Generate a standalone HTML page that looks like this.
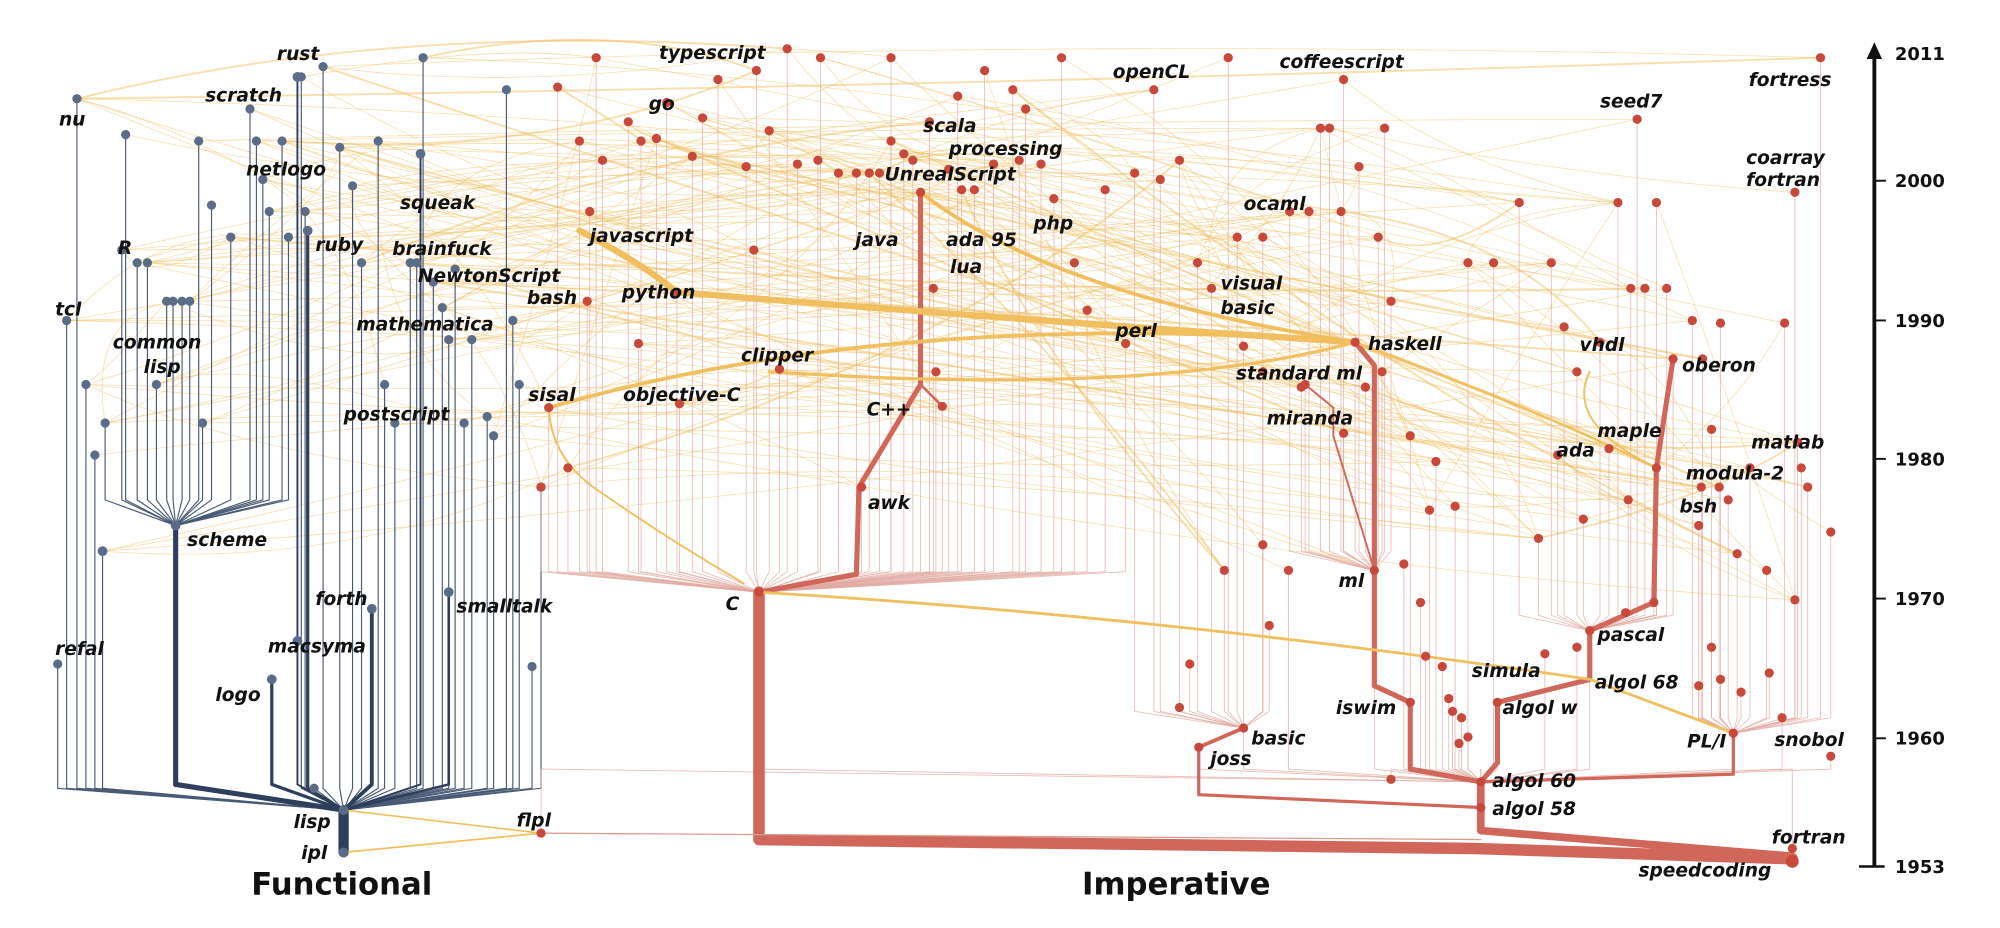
<!DOCTYPE html>
<html><head><meta charset="utf-8"><style>
html,body{margin:0;padding:0;background:#fff;width:2000px;height:928px;overflow:hidden}
svg{display:block}
.l{font-family:"DejaVu Sans","Liberation Sans",sans-serif;font-weight:bold;font-style:oblique;font-size:14.5px;fill:#111}
.ax{font-family:"DejaVu Sans","Liberation Sans",sans-serif;font-weight:bold;font-size:14px;fill:#111}
.big{font-family:"DejaVu Sans","Liberation Sans",sans-serif;font-weight:bold;font-size:24px;fill:#111}
</style></head><body>
<svg id="s" width="2000" height="928" viewBox="0 0 1560 724" preserveAspectRatio="none" xmlns="http://www.w3.org/2000/svg">
<g id="yel" fill="none" stroke="#f0c060"></g>
<g id="thin" fill="none"></g>
<g fill="none" stroke-linecap="round" stroke-linejoin="round">
<path d="M268,665 L268,632" stroke="#2e3e5c" stroke-width="8"/>
<path d="M268,632 L137,612 L137,410" stroke="#2e3e5c" stroke-width="4"/>
<path d="M268,632 L240,615 L240,180" stroke="#2e3e5c" stroke-width="2.5"/>
<path d="M268,632 L212,612 L212,530" stroke="#2e3e5c" stroke-width="2.5"/>
<path d="M268,632 L290,612 L290,475" stroke="#2e3e5c" stroke-width="3"/>
<path d="M268,632 L350,612 L350,462" stroke="#2e3e5c" stroke-width="2"/>
<path d="M268,632 L328,612 L328,120" stroke="#2e3e5c" stroke-width="1.5"/>
<path d="M268,632 L232,612 L232,60" stroke="#2e3e5c" stroke-width="1.5"/>
<path d="M592,462 L592,655 L1150,662 L1398,670" stroke="#d0675a" stroke-width="9"/>
<path d="M1155,610 L1155,648 L1398,668" stroke="#d0675a" stroke-width="6"/>
<path d="M592,462 L668,448 L670,380 L718,300 L718,150" stroke="#d0675a" stroke-width="4"/>
<path d="M718,300 L735,317" stroke="#d0675a" stroke-width="2"/>
<path d="M1155,610 L1100,600 L1100,548 L1072,535 L1072,445 L1072,285 L1057,267" stroke="#d0675a" stroke-width="4"/>
<path d="M1155,610 L1168,595 L1168,548 L1240,530 L1240,492 L1290,470 L1292,365 L1305,280" stroke="#d0675a" stroke-width="4"/>
<path d="M1155,610 L1352,604 L1352,572" stroke="#d0675a" stroke-width="2.5"/>
<path d="M935,583 L935,620 L1155,630" stroke="#d0675a" stroke-width="2.5"/>
<path d="M935,583 L970,568" stroke="#d0675a" stroke-width="3"/>
<path d="M1018,300 L1040,318 L1040,340 L1072,445" stroke="#d0675a" stroke-width="1.5"/>
<path d="M452,180 Q500,205 528,228 Q800,250 1057,267" stroke="#f0c060" stroke-width="5"/>
<path d="M718,150 Q820,230 1057,267" stroke="#f0c060" stroke-width="3"/>
<path d="M428,318 Q700,240 1057,267" stroke="#f0c060" stroke-width="3"/>
<path d="M592,462 Q900,480 1240,530 L1352,572" stroke="#f0c060" stroke-width="2.2"/>
<path d="M1057,267 Q1200,320 1292,365" stroke="#f0c060" stroke-width="2"/>
<path d="M600,290 Q900,310 1057,267" stroke="#f0c060" stroke-width="2.5"/>
<path d="M268,632 L422,650 L268,665" stroke="#f0c060" stroke-width="1.3"/>
<path d="M428,318 Q430,360 470,385 Q520,420 580,455" stroke="#f0c060" stroke-width="1.5"/>
<path d="M1240,290 Q1220,330 1292,365" stroke="#f0c060" stroke-width="1.5"/>
<path d="M422,650 L1155,655" stroke="#d99a90" stroke-width="1"/>
</g>
<g id="nodes"></g>
<g stroke="#111" stroke-width="3">
<line x1="1462" y1="676" x2="1462" y2="44"/>
<line x1="1450" y1="676" x2="1470" y2="676" stroke-width="2"/>
</g>
<polygon points="1456,46 1468,46 1462,33" fill="#111"/>
<g stroke="#111" stroke-width="1.5">
<line x1="1462" y1="141" x2="1471" y2="141"/><line x1="1462" y1="250" x2="1471" y2="250"/>
<line x1="1462" y1="358" x2="1471" y2="358"/><line x1="1462" y1="467" x2="1471" y2="467"/>
<line x1="1462" y1="576" x2="1471" y2="576"/>
</g>
<text class="ax" x="1478" y="47">2011</text><text class="ax" x="1478" y="146">2000</text>
<text class="ax" x="1478" y="255">1990</text><text class="ax" x="1478" y="363">1980</text>
<text class="ax" x="1478" y="472">1970</text><text class="ax" x="1478" y="581">1960</text>
<text class="ax" x="1478" y="681">1953</text>
<g class="l">
<text x="216" y="47">rust</text><text x="514" y="46">typescript</text><text x="868" y="61">openCL</text>
<text x="998" y="53">coffeescript</text><text x="1364" y="67">fortress</text><text x="46" y="98">nu</text>
<text x="160" y="79">scratch</text><text x="506" y="86">go</text><text x="720" y="103">scala</text>
<text x="1248" y="84">seed7</text><text x="740" y="121">processing</text><text x="192" y="137">netlogo</text>
<text x="690" y="141">UnrealScript</text><text x="1362" y="128">coarray</text><text x="1362" y="145">fortran</text>
<text x="312" y="163">squeak</text><text x="246" y="196">ruby</text><text x="306" y="199">brainfuck</text>
<text x="460" y="189">javascript</text><text x="667" y="192">java</text><text x="738" y="192">ada 95</text>
<text x="806" y="179">php</text><text x="970" y="164">ocaml</text><text x="741" y="213">lua</text>
<text x="92" y="198">R</text><text x="326" y="220">NewtonScript</text><text x="485" y="233">python</text>
<text x="411" y="237">bash</text><text x="952" y="226">visual</text><text x="952" y="245">basic</text>
<text x="43" y="246">tcl</text><text x="88" y="272">common</text><text x="112" y="291">lisp</text>
<text x="278" y="258">mathematica</text><text x="870" y="263">perl</text><text x="1067" y="273">haskell</text>
<text x="1232" y="274">vhdl</text><text x="578" y="282">clipper</text><text x="964" y="296">standard ml</text>
<text x="1312" y="290">oberon</text><text x="412" y="313">sisal</text><text x="486" y="313">objective-C</text>
<text x="676" y="324">C++</text><text x="988" y="331">miranda</text><text x="268" y="328">postscript</text>
<text x="1246" y="341">maple</text><text x="1214" y="356">ada</text><text x="1366" y="350">matlab</text>
<text x="1315" y="374">modula-2</text><text x="1310" y="400">bsh</text><text x="677" y="397">awk</text>
<text x="146" y="426">scheme</text><text x="246" y="472">forth</text><text x="356" y="478">smalltalk</text>
<text x="566" y="476">C</text><text x="1044" y="458">ml</text><text x="1246" y="500">pascal</text>
<text x="43" y="511">refal</text><text x="209" y="509">macsyma</text><text x="1148" y="528">simula</text>
<text x="1244" y="537">algol 68</text><text x="168" y="547">logo</text><text x="1042" y="557">iswim</text>
<text x="1172" y="557">algol w</text><text x="976" y="581">basic</text><text x="944" y="597">joss</text>
<text x="1316" y="583">PL/I</text><text x="1384" y="582">snobol</text><text x="1164" y="614">algol 60</text>
<text x="1164" y="636">algol 58</text><text x="229" y="646">lisp</text><text x="235" y="670">ipl</text>
<text x="403" y="645">flpl</text><text x="1382" y="658">fortran</text><text x="1278" y="684">speedcoding</text>
</g>
<text class="big" x="196" y="698">Functional</text>
<text class="big" x="844" y="698">Imperative</text>
<script>
(function(){
var NS="http://www.w3.org/2000/svg";
function el(t,a,p){var e=document.createElementNS(NS,t);for(var k in a)e.setAttribute(k,a[k]);p.appendChild(e);return e;}
var seed=7;function r(){seed=(seed*16807)%2147483647;return seed/2147483647;}
var F=[[45,518],[52,250],[60,77],[67,300],[74,355],[80,430],[82,330],[95,195],[98,105],[107,205],[115,205],[122,300],[130,235],[135,235],[142,235],[148,235],[155,110],[158,330],[165,160],[180,185],[195,85],[200,110],[205,140],[210,165],[220,110],[225,185],[235,60],[238,165],[245,615],[252,52],[265,115],[275,145],[282,205],[295,110],[300,300],[308,330],[320,205],[325,205],[330,45],[338,220],[345,240],[350,265],[355,210],[362,330],[368,265],[380,325],[385,340],[395,70],[400,250],[405,300],[415,520],[422,380]];
var FH=[[137,410],[240,180],[212,530],[290,475],[350,462],[328,120],[232,60],[268,632],[268,665],[232,500],[80,430]];
var R=[[465,45],[614,38],[828,45],[958,45],[1048,62],[1420,45],[900,70],[1277,93],[1400,150],[435,68],[490,95],[520,80],[548,92],[560,62],[590,55],[640,45],[695,45],[747,75],[725,95],[768,55],[800,85],[790,70],[452,110],[470,125],[500,110],[512,108],[540,122],[582,130],[600,102],[622,128],[638,125],[654,135],[668,135],[678,135],[686,135],[695,110],[705,120],[712,125],[740,132],[750,148],[760,148],[775,128],[795,125],[812,128],[822,155],[838,205],[848,242],[862,148],[878,268],[885,135],[905,140],[920,125],[934,205],[945,225],[965,185],[970,270],[985,185],[1006,165],[1021,165],[1030,100],[1037,100],[1046,165],[1060,130],[1075,185],[1080,100],[1048,338],[1065,302],[1078,290],[1100,340],[1115,398],[1120,360],[1135,395],[1145,205],[1165,205],[1185,158],[1200,420],[1210,205],[1215,355],[1220,255],[1230,290],[1235,405],[1248,267],[1255,350],[1262,158],[1270,390],[1272,225],[1283,225],[1292,158],[1300,225],[1320,250],[1325,410],[1328,280],[1335,335],[1342,252],[1348,390],[1355,432],[1365,365],[1378,445],[1392,252],[1402,345],[1405,365],[1410,380],[1428,415],[1428,590],[1327,380],[1341,380],[460,165],[458,235],[422,380],[443,365],[498,268],[530,315],[588,195],[608,288],[728,225],[730,290],[985,290],[990,488],[985,425],[955,445],[928,518],[920,552],[1005,445],[1015,302],[1085,235],[1095,440],[1108,470],[1112,512],[1125,520],[1133,555],[1140,560],[1145,575],[1130,545],[1085,608],[1138,580],[1205,510],[1230,505],[1268,478],[1290,470],[1335,505],[1342,530],[1358,540],[1380,525],[1390,560],[1400,468],[1325,535],[428,318],[528,228],[718,150],[735,317],[672,380],[1057,267],[1018,300],[1072,445],[1100,548],[1168,548],[1240,492],[1292,365],[1305,280],[1352,572],[1155,610],[1155,630],[935,583],[970,568],[1398,662],[592,462],[422,650]];
var thin=document.getElementById('thin'),yel=document.getElementById('yel'),nodes=document.getElementById('nodes');
F.forEach(function(p){
 var sch=(p[0]<230&&p[1]<400&&p[0]>75);
 var d=sch?"M"+p[0]+","+p[1]+" L"+p[0]+",390 L137,410":"M"+p[0]+","+p[1]+" L"+p[0]+",615 L268,632";
 el('path',{d:d,stroke:'#4a5a75','stroke-width':0.9},thin);
});
R.forEach(function(p){
 var x=p[0],y=p[1],d;
 if(x<880&&y<448){d="M"+x+","+y+" L"+x+",446 L592,462";}
 else if(x>=880&&x<1000&&y<560){d="M"+x+","+y+" L"+x+",555 L970,568";}
 else if(x>=1000&&x<1090&&y<440){d="M"+x+","+y+" L"+x+",430 L1072,445";}
 else if(x>=1180&&x<1320&&y<480){d="M"+x+","+y+" L"+x+",480 L1240,492";}
 else if(x>=1320&&y<560){d="M"+x+","+y+" L"+x+",560 L1352,572";}
 else {d="M"+x+","+y+" L"+x+",600 L1155,610";}
 el('path',{d:d,stroke:'#e0aaa2','stroke-width':0.7,opacity:0.75},thin);
});
var A=F.concat(R).filter(function(p){return p[1]<470;});
var n=0;
while(n<280){
 var a=A[Math.floor(r()*A.length)],b=A[Math.floor(r()*A.length)];
 if(Math.abs(a[0]-b[0])<60)continue;
 n++;
 var mx=(a[0]+b[0])/2+(r()-0.5)*120,my=(a[1]+b[1])/2+(r()-0.5)*100;
 el('path',{d:"M"+a[0]+","+a[1]+" Q"+mx+","+my+" "+b[0]+","+b[1],'stroke-width':(r()<0.08?1.5:0.6),opacity:0.5},yel);
}
F.forEach(function(p){el('circle',{cx:p[0],cy:p[1],r:3.6,fill:'#5b6c88'},nodes);});
FH.forEach(function(p){el('circle',{cx:p[0],cy:p[1],r:3.8,fill:'#5b6c88'},nodes);});
R.forEach(function(p){el('circle',{cx:p[0],cy:p[1],r:3.6,fill:'#c9483c'},nodes);});
el('circle',{cx:1398,cy:672,r:5,fill:'#c9483c'},nodes);
})();
</script>
</svg>
</body></html>
